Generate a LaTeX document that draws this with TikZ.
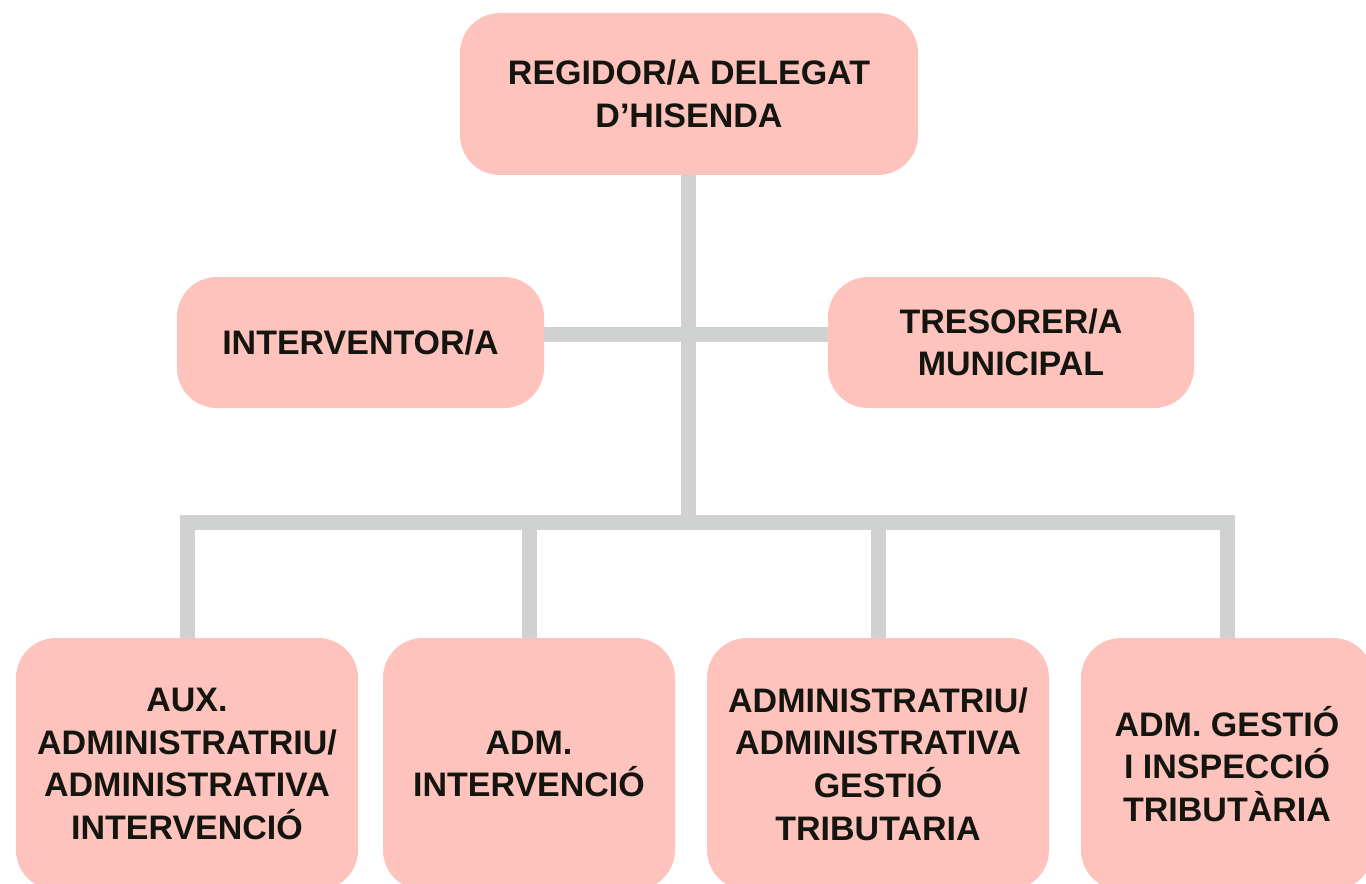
\documentclass[tikz,border=0pt]{standalone}
\usepackage{fontspec}
\setmainfont{Liberation Sans}
\usetikzlibrary{backgrounds}

\definecolor{boxpink}{HTML}{FFC3BD}
\definecolor{linegray}{HTML}{D0D2D1}
\definecolor{inkdark}{HTML}{151510}

\tikzset{
  post/.style={fill=boxpink,rounded corners=30pt,align=center,text=inkdark,
    font=\bfseries\fontsize{25.5pt}{32pt}\selectfont,inner sep=0pt},
  link/.style={draw=linegray,line width=11.25pt,line cap=rect}
}

\begin{document}
\begin{tikzpicture}[x=0.75pt,y=-0.75pt]
\useasboundingbox (0,0) rectangle (1366,884);
\node[post,minimum width=343.5pt,minimum height=121.5pt] (regidor) at (689,94) {REGIDOR/A DELEGAT\\D'HISENDA};
\node[post,minimum width=275.25pt,minimum height=98.25pt] (interv) at (360.5,342.5) {INTERVENTOR/A};
\node[post,minimum width=274.5pt,minimum height=98.25pt] (treso) at (1011,342.5) {TRESORER/A\\MUNICIPAL};
\node[post,minimum width=256.5pt,minimum height=189pt] (aux) at (187,764) {AUX.\\ADMINISTRATRIU/\\ADMINISTRATIVA\\INTERVENCIÓ};
\node[post,minimum width=219pt,minimum height=189pt] (adm) at (529,764) {ADM.\\INTERVENCIÓ};
\node[post,minimum width=256.5pt,minimum height=189pt] (gestio) at (878,764) {ADMINISTRATRIU/\\ADMINISTRATIVA\\GESTIÓ\\TRIBUTARIA};
\node[post,minimum width=219pt,minimum height=189pt] (inspec) at (1227,764) {ADM. GESTIÓ\\I INSPECCIÓ\\TRIBUTÀRIA};
\coordinate (mid) at (688,334);
\coordinate (hub) at (688,522);
% connectors
\begin{scope}[on background layer]
\draw[link,line cap=butt] (regidor.south -| hub) -- (hub);
\draw[link,line cap=butt] (interv.east |- mid) -- (treso.west |- mid);
\draw[link] (aux.north |- hub) -- (inspec.north |- hub);
\foreach \n in {aux,adm,gestio,inspec}
  \draw[link,line cap=butt] (\n.north |- hub) -- (\n.north);
\end{scope}
\end{tikzpicture}
\end{document}
